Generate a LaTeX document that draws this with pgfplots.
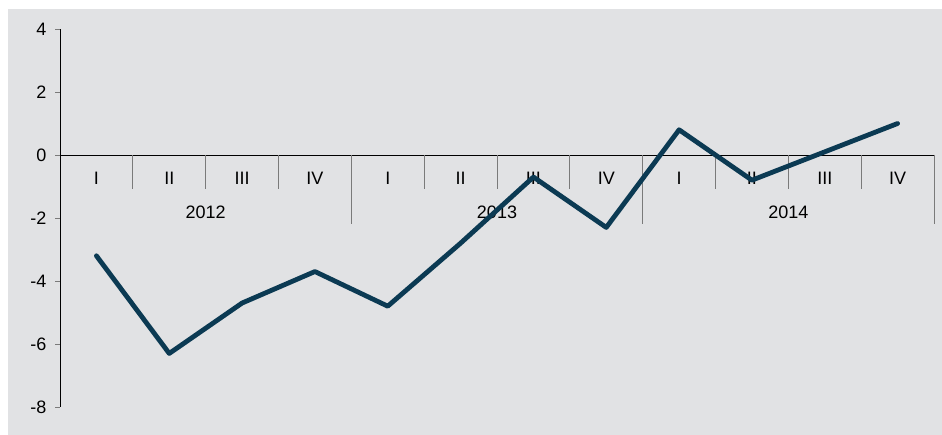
\documentclass[border=0pt]{standalone}
\usepackage{pgfplots}
\pgfplotsset{compat=1.18}
\usepackage{fontspec}
\setmainfont{Liberation Sans}
\definecolor{bg}{HTML}{E1E2E4}
\definecolor{navy}{HTML}{0B3A53}
\definecolor{sep}{HTML}{7A7A7A}
\begin{document}
\begin{tikzpicture}[x=1pt,y=1pt]
\path (0,0) rectangle (942,435);
\fill[bg] (8,0) rectangle (942,426);
\begin{axis}[
  at={(60pt,28pt)}, anchor=south west,
  scale only axis, width=874pt, height=378pt,
  xmin=0, xmax=12, ymin=-8, ymax=4,
  axis y line*=left, axis x line*=middle,
  axis line style={black, line width=0.8pt},
  ytick={-8,-6,-4,-2,0,2,4},
  yticklabels={-8,-6,-4,-2,0,2,4},
  ytick align=outside, ytick pos=left,
  major tick length=5pt,
  ytick style={draw=sep, line width=0.8pt},
  xtick={0.5,1.5,2.5,3.5,4.5,5.5,6.5,7.5,8.5,9.5,10.5,11.5},
  xticklabels={I,II,III,IV,I,II,III,IV,I,II,III,IV},
  xtick style={draw=none},
  xticklabel style={anchor=center, yshift=-23pt, font=\fontsize{18}{20}\selectfont},
  extra x ticks={2,6,10},
  extra x tick labels={2012,2013,2014},
  extra x tick style={xticklabel style={yshift=-34pt}, tick style={draw=none}},
  yticklabel style={xshift=-5pt, font=\fontsize{18}{20}\selectfont},
  clip=false,
]
\pgfplotsinvokeforeach{1,2,3,5,6,7,9,10,11}{
  \draw[sep, line width=0.8pt] (axis cs:#1,0) -- (axis cs:#1,-1.08);
}
\pgfplotsinvokeforeach{4,8,12}{
  \draw[sep, line width=0.8pt] (axis cs:#1,0) -- (axis cs:#1,-2.19);
}
\addplot[navy, line width=4.8pt, line join=round, line cap=round] coordinates {
  (0.5,-3.2) (1.5,-6.3) (2.5,-4.7) (3.5,-3.7)
  (4.5,-4.8) (5.5,-2.8) (6.5,-0.7) (7.5,-2.3)
  (8.5,0.8) (9.5,-0.8) (10.5,0.1) (11.5,1.0)
};
\end{axis}
\end{tikzpicture}
\end{document}
